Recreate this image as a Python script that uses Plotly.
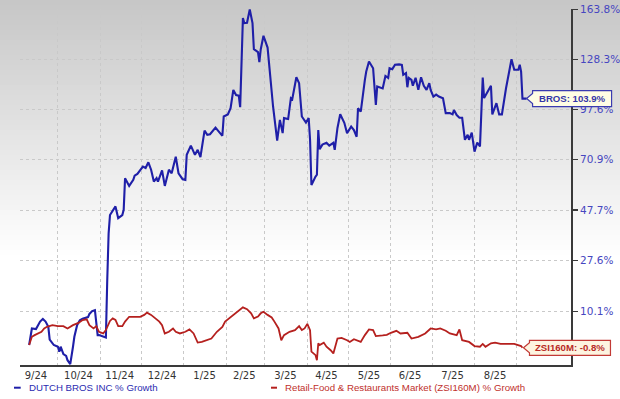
import math
from datetime import datetime
import plotly.graph_objects as go

# ---------------- data ----------------
bros_dates = [
    "2024-09-10", "2024-09-12", "2024-09-15", "2024-09-18", "2024-09-20", "2024-09-22", "2024-09-24",
    "2024-09-25", "2024-09-28", "2024-10-01", "2024-10-02", "2024-10-03", "2024-10-05", "2024-10-07",
    "2024-10-08", "2024-10-10", "2024-10-12", "2024-10-13", "2024-10-15", "2024-10-17", "2024-10-19",
    "2024-10-21", "2024-10-23", "2024-10-24", "2024-10-26", "2024-10-28", "2024-10-29", "2024-10-30",
    "2024-10-31", "2024-11-03", "2024-11-05", "2024-11-06", "2024-11-07", "2024-11-08", "2024-11-12",
    "2024-11-14", "2024-11-17", "2024-11-18", "2024-11-19", "2024-11-22", "2024-11-25", "2024-11-26",
    "2024-11-28", "2024-12-02", "2024-12-04", "2024-12-06", "2024-12-08", "2024-12-10", "2024-12-12",
    "2024-12-13", "2024-12-16", "2024-12-18", "2024-12-21", "2024-12-23", "2024-12-25", "2024-12-26",
    "2024-12-28", "2024-12-31", "2025-01-02", "2025-01-03", "2025-01-06", "2025-01-09", "2025-01-11",
    "2025-01-13", "2025-01-16", "2025-01-18", "2025-01-20", "2025-01-24", "2025-01-29", "2025-01-30",
    "2025-02-02", "2025-02-04", "2025-02-06", "2025-02-08", "2025-02-10", "2025-02-11", "2025-02-13",
    "2025-02-14", "2025-02-16", "2025-02-18", "2025-02-20", "2025-02-21", "2025-02-24", "2025-02-25",
    "2025-02-26", "2025-02-28", "2025-03-03", "2025-03-05", "2025-03-07", "2025-03-10", "2025-03-12",
    "2025-03-14", "2025-03-15", "2025-03-18", "2025-03-20", "2025-03-21", "2025-03-24", "2025-03-26",
    "2025-03-28", "2025-03-31", "2025-04-02", "2025-04-03", "2025-04-04", "2025-04-07", "2025-04-08",
    "2025-04-09", "2025-04-10", "2025-04-12", "2025-04-15", "2025-04-17", "2025-04-20", "2025-04-21",
    "2025-04-23", "2025-04-25", "2025-04-28", "2025-04-30", "2025-05-03", "2025-05-05", "2025-05-07",
    "2025-05-08", "2025-05-10", "2025-05-13", "2025-05-14", "2025-05-16", "2025-05-19", "2025-05-21",
    "2025-05-22", "2025-05-26", "2025-05-28", "2025-05-30", "2025-05-31", "2025-06-02", "2025-06-04",
    "2025-06-07", "2025-06-09", "2025-06-10", "2025-06-12", "2025-06-13", "2025-06-14", "2025-06-16",
    "2025-06-17", "2025-06-19", "2025-06-21", "2025-06-23", "2025-06-25", "2025-06-27", "2025-06-29",
    "2025-06-30", "2025-07-02", "2025-07-04", "2025-07-06", "2025-07-09", "2025-07-11", "2025-07-14",
    "2025-07-16", "2025-07-17", "2025-07-19", "2025-07-21", "2025-07-23", "2025-07-25", "2025-07-27",
    "2025-07-28", "2025-07-30", "2025-08-01", "2025-08-03", "2025-08-05", "2025-08-07", "2025-08-08",
    "2025-08-11", "2025-08-13", "2025-08-14", "2025-08-17", "2025-08-19", "2025-08-21", "2025-08-24",
    "2025-08-26", "2025-08-28", "2025-08-30", "2025-09-02", "2025-09-03", "2025-09-04", "2025-09-05",
    "2025-09-08",
]
bros_growth = [
    0.0, 4.9, 4.7, 7.0, 7.8, 7.0, 5.4,
    1.6, 0.0, -0.5, -1.9, -0.5, -2.6, -3.1,
    -4.3, -5.4, -0.5, 2.4, 5.9, 7.4, 7.9,
    8.2, 8.4, 9.4, 10.3, 10.6, 5.6, 2.9,
    2.9, 2.4, 2.2, 20.7, 38.1, 45.6, 49.3,
    44.3, 45.6, 47.8, 61.9, 58.4, 61.2, 63.2,
    64.0, 67.5, 66.8, 69.6, 66.0, 60.4, 62.0,
    60.4, 65.7, 58.4, 66.0, 64.3, 69.1, 72.4,
    64.3, 61.5, 61.2, 73.3, 78.0, 73.3, 75.8,
    72.2, 85.9, 83.6, 83.9, 87.5, 83.1, 93.6,
    94.8, 98.3, 109.1, 106.0, 105.6, 98.9, 157.3,
    153.6, 153.9, 163.8, 153.6, 135.2, 133.2, 126.6,
    135.0, 144.5, 136.3, 117.3, 99.3, 80.6, 91.7,
    84.5, 92.7, 92.2, 104.2, 103.6, 116.9, 113.2,
    93.6, 90.2, 92.7, 81.0, 58.8, 62.7, 63.6,
    86.2, 76.1, 78.5, 79.4, 78.0, 79.4, 75.8,
    87.3, 94.9, 90.1, 84.5, 88.0, 86.2, 82.6,
    98.3, 96.4, 115.2, 120.5, 127.0, 122.6, 100.2,
    111.2, 110.0, 117.7, 116.5, 122.6, 122.0, 124.9,
    125.1, 124.8, 118.4, 119.5, 110.7, 116.5, 115.2,
    111.6, 116.5, 109.1, 116.9, 111.6, 109.1, 113.2,
    109.1, 105.1, 106.3, 105.1, 104.1, 95.5, 95.5,
    94.8, 97.3, 94.4, 92.9, 92.9, 81.0, 83.6,
    81.0, 84.8, 74.9, 79.5, 77.6, 116.7, 104.2,
    108.1, 111.6, 94.8, 101.2, 94.8, 94.8, 110.1,
    120.5, 128.5, 121.6, 121.6, 124.8, 120.5, 103.9,
    103.9,
]

zsi_dates = [
    "2024-09-10", "2024-09-12", "2024-09-14", "2024-09-16", "2024-09-19", "2024-09-21", "2024-09-23",
    "2024-09-27", "2024-10-01", "2024-10-05", "2024-10-08", "2024-10-12", "2024-10-16", "2024-10-19",
    "2024-10-22", "2024-10-24", "2024-10-27", "2024-10-29", "2024-10-31", "2024-11-03", "2024-11-05",
    "2024-11-08", "2024-11-10", "2024-11-12", "2024-11-14", "2024-11-17", "2024-11-19", "2024-11-22",
    "2024-11-26", "2024-11-30", "2024-12-03", "2024-12-05", "2024-12-08", "2024-12-10", "2024-12-14",
    "2024-12-16", "2024-12-18", "2024-12-21", "2024-12-24", "2024-12-26", "2024-12-29", "2025-01-02",
    "2025-01-05", "2025-01-08", "2025-01-11", "2025-01-14", "2025-01-18", "2025-01-21", "2025-01-25",
    "2025-01-29", "2025-01-31", "2025-02-03", "2025-02-07", "2025-02-10", "2025-02-13", "2025-02-16",
    "2025-02-19", "2025-02-21", "2025-02-24", "2025-02-26", "2025-02-28", "2025-03-03", "2025-03-06",
    "2025-03-08", "2025-03-11", "2025-03-13", "2025-03-15", "2025-03-19", "2025-03-23", "2025-03-26",
    "2025-03-28", "2025-03-30", "2025-04-01", "2025-04-03", "2025-04-04", "2025-04-07", "2025-04-08",
    "2025-04-09", "2025-04-10", "2025-04-13", "2025-04-15", "2025-04-18", "2025-04-20", "2025-04-23",
    "2025-04-26", "2025-04-30", "2025-05-02", "2025-05-05", "2025-05-10", "2025-05-13", "2025-05-16",
    "2025-05-19", "2025-05-21", "2025-05-26", "2025-05-29", "2025-06-01", "2025-06-05", "2025-06-08",
    "2025-06-13", "2025-06-16", "2025-06-21", "2025-06-26", "2025-06-30", "2025-07-04", "2025-07-07",
    "2025-07-11", "2025-07-14", "2025-07-19", "2025-07-21", "2025-07-23", "2025-07-28", "2025-08-01",
    "2025-08-05", "2025-08-07", "2025-08-09", "2025-08-13", "2025-08-16", "2025-08-20", "2025-08-25",
    "2025-08-30", "2025-09-04", "2025-09-05",
]
zsi_growth = [
    0.0, 2.4, 2.9, 3.4, 3.9, 4.9, 5.4,
    5.9, 5.6, 5.6, 4.9, 5.9, 6.6, 7.5,
    7.7, 5.9, 4.9, 5.6, 3.9, 3.4, 4.4,
    7.2, 8.0, 7.5, 5.6, 5.6, 7.0, 8.5,
    8.6, 8.5, 9.1, 9.8, 9.1, 8.3, 7.0,
    5.9, 3.4, 3.9, 4.9, 3.9, 3.4, 3.9,
    4.6, 3.4, 0.7, 0.9, 1.4, 1.9, 3.9,
    5.4, 7.0, 8.0, 9.6, 10.6, 11.5, 10.9,
    9.6, 8.0, 8.6, 9.6, 10.1, 9.1, 8.3,
    7.0, 4.9, 1.4, 2.9, 3.9, 4.4, 5.6,
    4.4, 4.9, 6.3, 4.4, -1.9, -2.9, -4.3,
    0.5, 0.0, 0.7, -0.5, -1.5, -2.4, 1.9,
    2.1, 1.4, 0.9, 1.7, 0.9, 2.9, 4.6,
    4.4, 2.6, 2.8, 3.0, 3.6, 4.2, 3.4,
    3.6, 1.9, 2.4, 3.4, 4.9, 4.6, 4.9,
    4.2, 3.4, 2.9, 4.6, 1.4, 0.9, -0.3,
    -0.5, 0.3, -0.5, 0.5, 0.7, 0.3, 0.3,
    0.3, -0.3, -0.8,
]

y_tick_values = [10.1, 27.6, 47.7, 70.9, 97.6, 128.3, 163.8]
month_labels = ["9/24", "10/24", "11/24", "12/24", "1/25", "2/25",
                "3/25", "4/25", "5/25", "6/25", "7/25", "8/25"]
month_starts = ["2024-10-01", "2024-11-01", "2024-12-01", "2025-01-01", "2025-02-01", "2025-03-01",
                "2025-04-01", "2025-05-01", "2025-06-01", "2025-07-01", "2025-08-01", "2025-09-01"]
month_mid = ["2024-09-15", "2024-10-16", "2024-11-15", "2024-12-16", "2025-01-16", "2025-02-14",
             "2025-03-16", "2025-04-15", "2025-05-16", "2025-06-15", "2025-07-16", "2025-08-16"]

bros_name = "DUTCH BROS INC % Growth"
zsi_name = "Retail-Food & Restaurants Market (ZSI160M) % Growth"

# ---------------- styling ----------------
W, H = 620, 399
ML, MR, MT, MB = 20, 49, 9, 34
PW, PH = W - ML - MR, H - MT - MB
BLUE = "#1f1fa8"
RED = "#b5201e"
AXIS = "#3a3a3a"
GRID = "#c9c9c9"
X_RANGE = ["2024-09-03 08:00", "2025-10-10 10:00"]


def factor(p):
    return 1 + p / 100.0


def px_to_paper_x(px):
    return (px - ML) / PW


def px_to_paper_y(py):
    return (H - MB - py) / PH


def _dt(s):
    return datetime.fromisoformat(s)


def date_to_paper(d):
    t0, t1 = _dt(X_RANGE[0]), _dt(X_RANGE[1])
    return (_dt(d) - t0).total_seconds() / (t1 - t0).total_seconds()


fig = go.Figure()
fig.add_trace(go.Scatter(x=bros_dates, y=[factor(v) for v in bros_growth], mode="lines",
                         name=bros_name, line=dict(color=BLUE, width=2.1)))
fig.add_trace(go.Scatter(x=zsi_dates, y=[factor(v) for v in zsi_growth], mode="lines",
                         name=zsi_name, line=dict(color=RED, width=1.8)))

shapes = []
# vertical grey-to-white background gradient
band = 5
for i in range(0, 260, band):
    c = int(round(198 + (255 - 198) * min(1.0, (i + band / 2) / 255.0)))
    shapes.append(dict(type="rect", xref="paper", yref="paper",
                       x0=-0.1, x1=1.2, y0=px_to_paper_y(i + band + 0.5), y1=px_to_paper_y(i - (3 if i == 0 else 0)),
                       fillcolor=f"rgb({c},{c},{c})", line=dict(width=0), layer="below"))

# legend keys
shapes.append(dict(type="line", xref="paper", yref="paper", x0=px_to_paper_x(14), x1=px_to_paper_x(20.7),
                   y0=px_to_paper_y(387.7), y1=px_to_paper_y(387.7), line=dict(color=BLUE, width=2)))
shapes.append(dict(type="line", xref="paper", yref="paper", x0=px_to_paper_x(271), x1=px_to_paper_x(277),
                   y0=px_to_paper_y(387.7), y1=px_to_paper_y(387.7), line=dict(color=RED, width=2)))

# end-of-line callouts (x in paper so they are not clipped at the axis)
shapes.append(dict(type="path", xref="paper", yref="y", xsizemode="pixel", ysizemode="pixel",
                   xanchor=date_to_paper(bros_dates[-1]), yanchor=factor(bros_growth[-1]),
                   path="M0,0 L6,5 L6,8 L85,8 L85,-8 L6,-8 L6,-5 Z",
                   fillcolor="#fffde4", line=dict(color="#3b3bb0", width=1.2), layer="above"))
shapes.append(dict(type="path", xref="paper", yref="y", xsizemode="pixel", ysizemode="pixel",
                   xanchor=date_to_paper(zsi_dates[-1]), yanchor=factor(zsi_growth[-1]),
                   path="M1,0 L7,5 L7,7.5 L88,7.5 L88,-7.5 L7,-7.5 L7,-5 Z",
                   fillcolor="#fdf4e0", line=dict(color="#c23a36", width=1.2), layer="above"))

annotations = [
    dict(xref="paper", yref="paper", x=px_to_paper_x(26.5), y=px_to_paper_y(387.7),
         xanchor="left", yanchor="middle", showarrow=False, text=bros_name,
         font=dict(family="Liberation Sans, Arial", size=9.7, color="#2a2ab0")),
    dict(xref="paper", yref="paper", x=px_to_paper_x(283), y=px_to_paper_y(387.7),
         xanchor="left", yanchor="middle", showarrow=False, text=zsi_name,
         font=dict(family="Liberation Sans, Arial", size=9.7, color="#c0302c")),
    dict(xref="x", yref="y", x=bros_dates[-1], y=math.log10(factor(bros_growth[-1])),
         xshift=45.5, xanchor="center", yanchor="middle", showarrow=False,
         text=f"<b>BROS: {bros_growth[-1]:.1f}%</b>",
         font=dict(family="Liberation Sans, Arial", size=9.6, color="#3535a8")),
    dict(xref="x", yref="y", x=zsi_dates[-1], y=math.log10(factor(zsi_growth[-1])),
         xshift=48, xanchor="center", yanchor="middle", showarrow=False,
         text=f"<b>ZSI160M: {zsi_growth[-1]:.1f}%</b>",
         font=dict(family="Liberation Sans, Arial", size=9.6, color="#b82a26")),
]

fig.update_layout(
    template="none",
    width=W, height=H, autosize=False,
    margin=dict(l=ML, r=MR, t=MT, b=MB, pad=0),
    paper_bgcolor="white", plot_bgcolor="rgba(0,0,0,0)",
    showlegend=False, hovermode=False,
    shapes=shapes, annotations=annotations,
    xaxis=dict(
        type="date", range=X_RANGE, autorange=False, automargin=False,
        tickmode="array", tickvals=month_mid, ticktext=month_labels,
        ticks="", showgrid=False, zeroline=False,
        showline=True, linecolor=AXIS, linewidth=2,
        tickfont=dict(family="DejaVu Sans, Verdana", size=10, color="#333333"),
        minor=dict(tickmode="array", tickvals=month_starts, showgrid=True,
                   gridcolor=GRID, griddash="dot", gridwidth=1, ticks=""),
    ),
    yaxis=dict(
        type="log", side="right", range=[-0.0251, 0.4219], autorange=False, automargin=False,
        tickmode="array", tickvals=[factor(v) for v in y_tick_values],
        ticktext=[f"{v:.1f}%" for v in y_tick_values],
        showgrid=True, gridcolor=GRID, griddash="dot", gridwidth=1, zeroline=False,
        showline=True, linecolor=AXIS, linewidth=2,
        ticks="outside", ticklen=5, tickwidth=1.5, tickcolor=AXIS,
        tickfont=dict(family="DejaVu Sans, Verdana", size=10.5, color="#4646c0"),
    ),
)

fig.write_html("out.html", config={"displayModeBar": False, "staticPlot": True},
               post_script="document.body.style.margin='0';")
